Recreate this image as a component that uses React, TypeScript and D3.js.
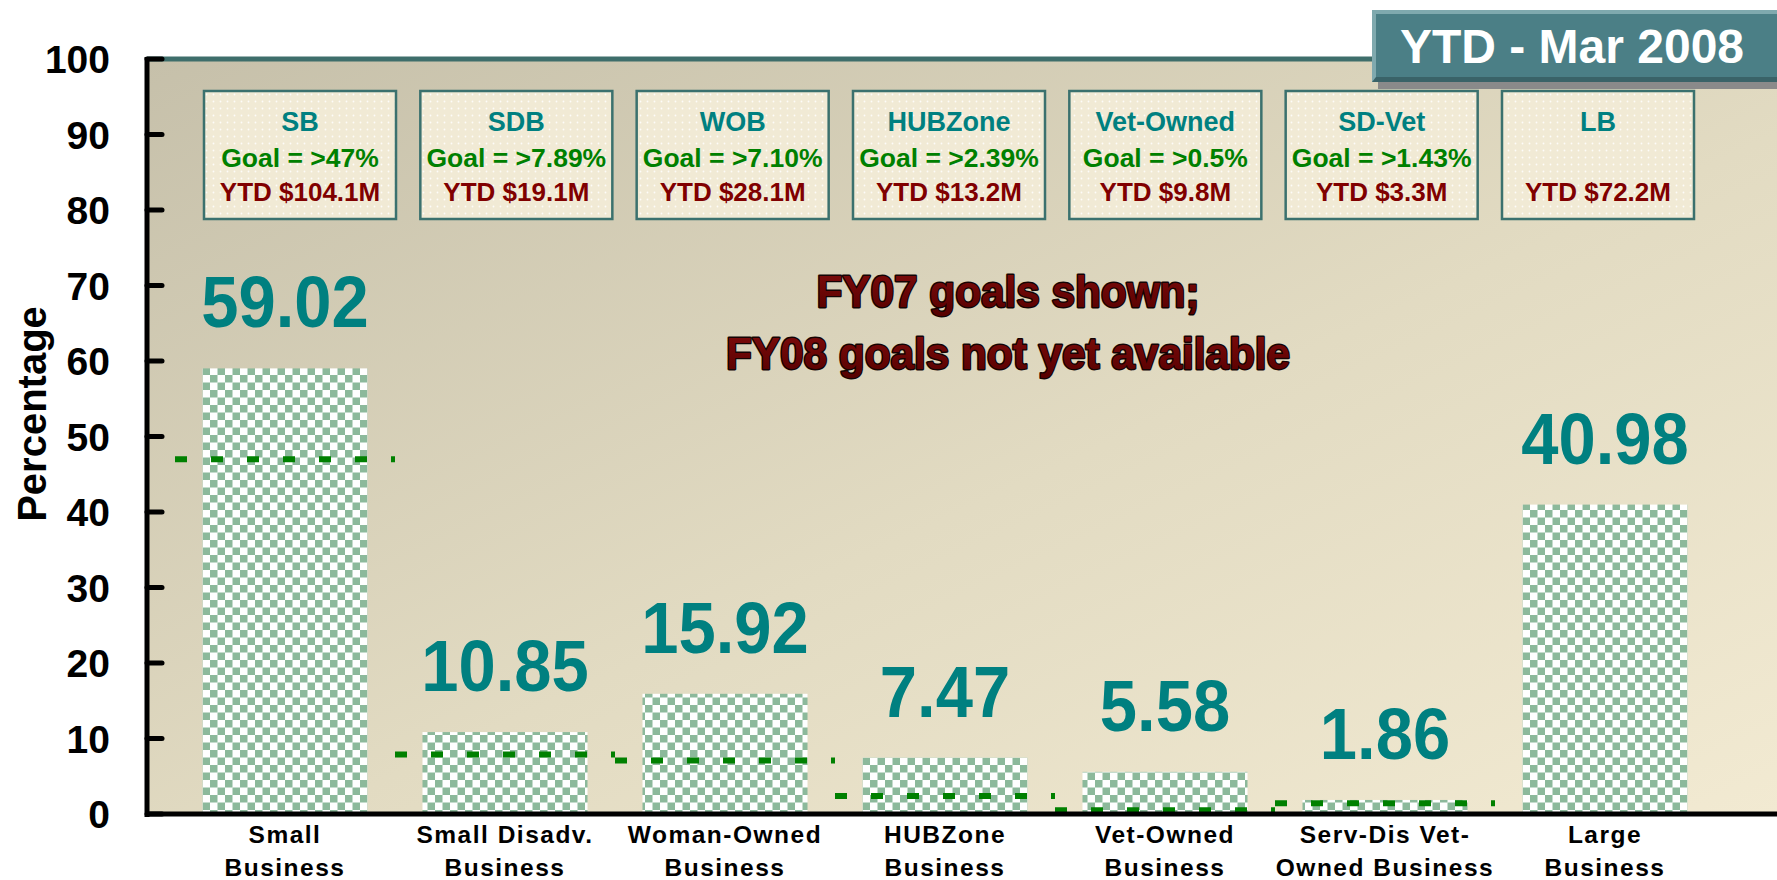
import React from "react";
import * as d3 from "d3";

const categories = [
  "Small\nBusiness",
  "Small Disadv.\nBusiness",
  "Woman-Owned\nBusiness",
  "HUBZone\nBusiness",
  "Vet-Owned\nBusiness",
  "Serv-Dis Vet-\nOwned Business",
  "Large\nBusiness",
];
const values = [59.02, 10.85, 15.92, 7.47, 5.58, 1.86, 40.98];
const goals: (number | null)[] = [47, 7.89, 7.1, 2.39, 0.5, 1.43, null];
const boxTitles = ["SB", "SDB", "WOB", "HUBZone", "Vet-Owned", "SD-Vet", "LB"];
const boxGoals = ["Goal = >47%", "Goal = >7.89%", "Goal = >7.10%", "Goal = >2.39%", "Goal = >0.5%", "Goal = >1.43%", ""];
const boxYtd = ["YTD $104.1M", "YTD $19.1M", "YTD $28.1M", "YTD $13.2M", "YTD $9.8M", "YTD $3.3M", "YTD $72.2M"];
const yTicks = [0, 10, 20, 30, 40, 50, 60, 70, 80, 90, 100];
const titleText = "YTD - Mar 2008";
const noteLines = ["FY07 goals shown;", "FY08 goals not yet available"];
const yAxisTitle = "Percentage";

const W = 1777;
const H = 880;
const FONT = "'Liberation Sans', Arial, Helvetica, sans-serif";

export default function App() {
  const plotLeft = 147;
  const plotTop = 59;
  const plotBottom = 814;
  const y = d3.scaleLinear().domain([0, 100]).range([plotBottom, plotTop]);
  const x = d3
    .scaleBand<string>()
    .domain(categories)
    .range([175, 1715])
    .paddingInner(0.25)
    .paddingOuter(0.125);
  const step = x.step();
  const bw = x.bandwidth();
  const boxX = d3.scalePoint<string>().domain(categories).range([300, 1598]);
  const boxW = 192;
  const boxH = 128;
  const boxTop = 91;

  return (
    <div style={{ position: "absolute", left: 0, top: 0 }}>
      <svg width={W} height={H} style={{ display: "block" }}>
        <defs>
          <linearGradient id="bg" x1="0" y1="0" x2="1" y2="1">
            <stop offset="0" stopColor="#C6C0AA" />
            <stop offset="0.55" stopColor="#E2DBC2" />
            <stop offset="1" stopColor="#F2EAD2" />
          </linearGradient>
          <pattern id="checker" width="15" height="15" patternUnits="userSpaceOnUse">
            <rect width="15" height="15" fill="#FFFFFF" />
            <rect x="0" y="0" width="7.5" height="7.5" fill="#8CB99B" />
            <rect x="7.5" y="7.5" width="7.5" height="7.5" fill="#8CB99B" />
          </pattern>
          <pattern id="dots" width="7" height="7" patternUnits="userSpaceOnUse">
            <rect width="7" height="7" fill="#F1EAD5" />
            <circle cx="3.5" cy="3.5" r="0.9" fill="#FFFFFF" opacity="0.85" />
          </pattern>
          <linearGradient id="noteFill" x1="0" y1="0" x2="0" y2="1">
            <stop offset="0" stopColor="#800C0C" />
            <stop offset="1" stopColor="#560000" />
          </linearGradient>
        </defs>

        {/* plot background */}
        <rect x={plotLeft} y={plotTop} width={W - plotLeft} height={plotBottom - plotTop} fill="url(#bg)" />
        <line x1={plotLeft} x2={W} y1={plotTop} y2={plotTop} stroke="#3E6E6B" strokeWidth={5} />

        {/* info boxes */}
        {categories.map((c, i) => {
          const cx = boxX(c)!;
          return (
            <g key={"box" + i}>
              <rect
                x={cx - boxW / 2}
                y={boxTop}
                width={boxW}
                height={boxH}
                fill="url(#dots)"
                stroke="#3B716E"
                strokeWidth={2.5}
              />
              <text x={cx} y={boxTop + 40} textAnchor="middle" fontFamily={FONT} fontWeight="bold" fontSize={27} fill="#008080">
                {boxTitles[i]}
              </text>
              {boxGoals[i] && (
                <text x={cx} y={boxTop + 76} textAnchor="middle" fontFamily={FONT} fontWeight="bold" fontSize={26.5} fill="#008000">
                  {boxGoals[i]}
                </text>
              )}
              <text x={cx} y={boxTop + 110} textAnchor="middle" fontFamily={FONT} fontWeight="bold" fontSize={26} fill="#800000">
                {boxYtd[i]}
              </text>
            </g>
          );
        })}

        {/* note */}
        {noteLines.map((t, i) => (
          <g key={"note" + i} transform={`translate(1008, ${307 + i * 62}) scale(0.94,1)`}>
            <text
              x={0}
              y={0}
              textAnchor="middle"
              fontFamily={FONT}
              fontWeight="bold"
              fontSize={45}
              fill="url(#noteFill)"
              stroke="#140404"
              strokeWidth={2.8}
              strokeLinejoin="round"
              style={{ paintOrder: "stroke" }}
            >
              {t}
            </text>
          </g>
        ))}

        {/* bars */}
        {categories.map((c, i) => (
          <rect
            key={"bar" + i}
            x={x(c)!}
            y={y(values[i])}
            width={bw}
            height={y(0) - y(values[i])}
            fill="url(#checker)"
          />
        ))}

        {/* goal dashes */}
        {categories.map((c, i) => {
          const g = goals[i];
          if (g == null) return null;
          const cx = x(c)! + bw / 2;
          return (
            <line
              key={"goal" + i}
              x1={cx - step / 2}
              x2={cx + step / 2}
              y1={y(g)}
              y2={y(g)}
              stroke="#008000"
              strokeWidth={6}
              strokeDasharray="12 24"
            />
          );
        })}

        {/* value labels */}
        {categories.map((c, i) => {
          const cx = x(c)! + bw / 2;
          return (
            <g key={"val" + i} transform={`translate(${cx}, ${y(values[i]) - 41}) scale(0.93,1)`}>
              <text x={0} y={0} textAnchor="middle" fontFamily={FONT} fontWeight="bold" fontSize={72} fill="#008080">
                {values[i].toFixed(2)}
              </text>
            </g>
          );
        })}

        {/* axes */}
        <line x1={plotLeft} x2={plotLeft} y1={plotTop - 2} y2={plotBottom + 3} stroke="#000" strokeWidth={5} />
        <line x1={plotLeft - 2} x2={W} y1={plotBottom} y2={plotBottom} stroke="#000" strokeWidth={5} />
        {yTicks.map((t) => (
          <g key={"yt" + t}>
            <line x1={plotLeft} x2={162} y1={y(t)} y2={y(t)} stroke="#000" strokeWidth={5} strokeLinecap="round" />
            <text x={110} y={y(t) + 14} textAnchor="end" fontFamily={FONT} fontWeight="bold" fontSize={39} fill="#000">
              {t}
            </text>
          </g>
        ))}
        <text
          transform="translate(46, 414) rotate(-90)"
          textAnchor="middle"
          fontFamily={FONT}
          fontWeight="bold"
          fontSize={40}
          fill="#000"
        >
          {yAxisTitle}
        </text>

        {/* x labels */}
        {categories.map((c, i) => {
          const cx = x(c)! + bw / 2;
          return c.split("\n").map((ln, j) => (
            <text
              key={"xl" + i + "_" + j}
              x={cx}
              y={843 + j * 33}
              textAnchor="middle"
              fontFamily={FONT}
              fontWeight="bold"
              fontSize={24.5}
              letterSpacing={1.5}
              fill="#000"
            >
              {ln}
            </text>
          ));
        })}

        {/* title box */}
        <g>
          <rect x={1378} y={17} width={W - 1378} height={72} fill="#8A8A8A" />
          <rect x={1372} y={10} width={W - 1372 + 4} height={72} fill="#4B7F86" />
          <polygon points={`1372,10 ${W},10 ${W},14 1376,14 1376,82 1372,82`} fill="#7FA9AE" />
          <polygon points={`1372,82 ${W},82 ${W},77 1376,77`} fill="#3A6368" />
          <text
            x={1572}
            y={63}
            textAnchor="middle"
            fontFamily={FONT}
            fontWeight="bold"
            fontSize={48}
            fill="#FFFFFF"
          >
            {titleText}
          </text>
        </g>
      </svg>
    </div>
  );
}
